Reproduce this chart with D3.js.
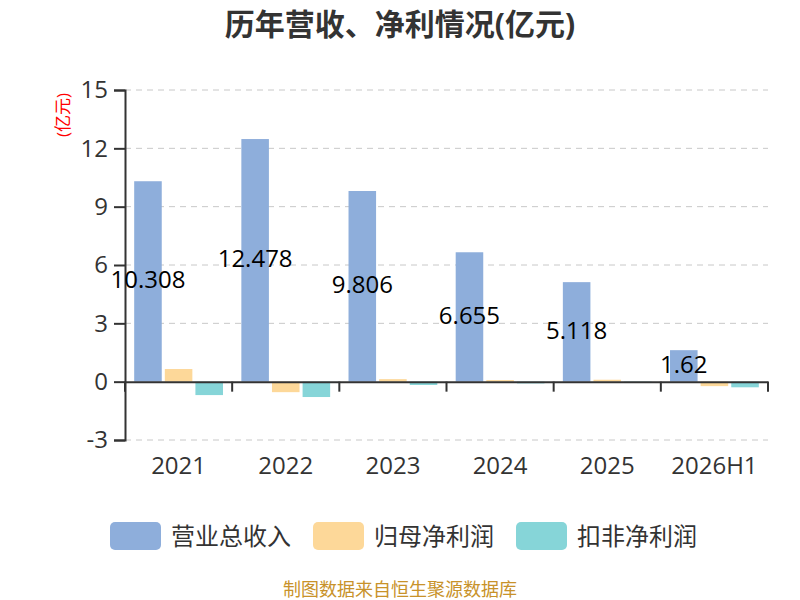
<!DOCTYPE html>
<html>
<head>
<meta charset="utf-8">
<script src="https://cdn.jsdelivr.net/npm/d3@7"></script>
<style>
body { margin: 0; background: #fff; }
text { font-family: "Open Sans", "Noto Sans CJK SC", sans-serif; }
</style>
</head>
<body>
<div id="chart"></div>
<script>
var years = ["2021", "2022", "2023", "2024", "2025", "2026H1"];
var revenue = [10.308, 12.478, 9.806, 6.655, 5.118, 1.62];
var netProfit = [0.65, -0.54, 0.13, 0.08, 0.1, -0.23];
var deductedProfit = [-0.69, -0.79, -0.17, -0.09, -0.07, -0.29];
var seriesNames = ["营业总收入", "归母净利润", "扣非净利润"];
var colors = ["#8eaedb", "#fdd899", "#86d5d8"];
var yTicks = [-3, 0, 3, 6, 9, 12, 15];

var width = 800, height = 600;
var plotLeft = 125, plotRight = 768, plotTop = 90, plotBottom = 440;

var svg = d3.select("#chart").append("svg")
    .attr("width", width)
    .attr("height", height);

var x = d3.scaleBand().domain(years).range([plotLeft, plotRight]);
var inner = d3.scaleBand().domain(d3.range(3)).range([0, x.bandwidth()])
    .paddingInner(0.1).paddingOuter(0.3);
var y = d3.scaleLinear().domain([-3, 15]).range([plotBottom, plotTop]);

// title
svg.append("text")
    .attr("x", 400).attr("y", 35)
    .attr("text-anchor", "middle")
    .style("font-size", "30px").style("font-weight", "bold")
    .style("fill", "#333")
    .text("历年营收、净利情况(亿元)");

// unit label
svg.append("text")
    .attr("transform", "translate(69,115) rotate(-90)")
    .attr("text-anchor", "middle")
    .style("font-size", "17px").style("fill", "red")
    .text("(亿元)");

// grid
svg.append("g").selectAll("line")
    .data(yTicks.filter(function(d) { return d !== 0; }))
  .enter().append("line")
    .attr("x1", plotLeft).attr("x2", plotRight)
    .attr("y1", function(d) { return y(d); })
    .attr("y2", function(d) { return y(d); })
    .style("stroke", "#c8c8c8")
    .style("stroke-dasharray", "6,5");

// y axis
var yAxis = svg.append("g")
    .attr("transform", "translate(" + plotLeft + ",0)")
    .call(d3.axisLeft(y).tickValues(yTicks).tickSize(11).tickPadding(6)
        .tickFormat(function(d) { return String(d); }));
yAxis.select(".domain").style("stroke", "#333").style("stroke-width", 2);
yAxis.selectAll(".tick line").style("stroke", "#333").style("stroke-width", 2);
yAxis.selectAll(".tick text").style("font-size", "24px").style("fill", "#333")
    .style("font-family", "'Open Sans', sans-serif");

// bars
var series = [revenue, netProfit, deductedProfit];
series.forEach(function(vals, s) {
    svg.append("g").selectAll("rect")
        .data(vals)
      .enter().append("rect")
        .attr("x", function(d, i) { return x(years[i]) + inner(s); })
        .attr("width", inner.bandwidth())
        .attr("y", function(d) { return y(Math.max(0, d)); })
        .attr("height", function(d) { return Math.abs(y(d) - y(0)); })
        .style("fill", colors[s]);
});

// x axis at zero
var xAxis = svg.append("g")
    .attr("transform", "translate(0," + y(0) + ")")
    .call(d3.axisBottom(x).tickSize(0).tickFormat(""));
xAxis.select(".domain").style("stroke", "#333").style("stroke-width", 2);
xAxis.selectAll(".tick").remove();
xAxis.selectAll(".sep")
    .data(d3.range(years.length + 1))
  .enter().append("line")
    .attr("class", "sep")
    .attr("x1", function(i) { return plotLeft + i * x.step(); })
    .attr("x2", function(i) { return plotLeft + i * x.step(); })
    .attr("y1", 0).attr("y2", 10)
    .style("stroke", "#333").style("stroke-width", 2);

// x labels
svg.append("g").selectAll("text")
    .data(years)
  .enter().append("text")
    .attr("x", function(d) { return x(d) + x.bandwidth() / 2; })
    .attr("y", 474)
    .attr("text-anchor", "middle")
    .style("font-size", "24px").style("fill", "#333")
    .text(function(d) { return d; });

// value labels on revenue bars
svg.append("g").selectAll("text")
    .data(revenue)
  .enter().append("text")
    .attr("x", function(d, i) { return x(years[i]) + inner(0) + inner.bandwidth() / 2; })
    .attr("y", function(d) { return (y(d) + y(0)) / 2 + 7; })
    .attr("text-anchor", "middle")
    .style("font-size", "24px").style("fill", "#000")
    .text(function(d) { return d; });

// legend
var legendX = [110, 313, 516];
var legend = svg.append("g").selectAll("g")
    .data(seriesNames)
  .enter().append("g")
    .attr("transform", function(d, i) { return "translate(" + legendX[i] + ",522)"; });
legend.append("rect")
    .attr("width", 51).attr("height", 28).attr("rx", 5)
    .style("fill", function(d, i) { return colors[i]; });
legend.append("text")
    .attr("x", 61).attr("y", 23)
    .style("font-size", "24px").style("fill", "#333")
    .text(function(d) { return d; });

// footer
svg.append("text")
    .attr("x", 400).attr("y", 596)
    .attr("text-anchor", "middle")
    .style("font-size", "18px").style("fill", "#c8922a")
    .text("制图数据来自恒生聚源数据库");
</script>
</body>
</html>
